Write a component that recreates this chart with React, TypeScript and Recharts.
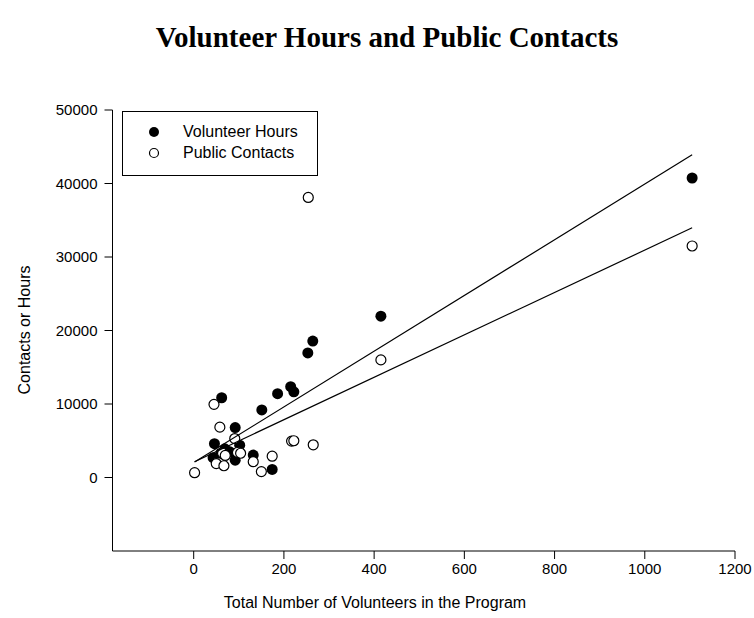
import React from 'react';
import { ScatterChart, Scatter, XAxis, YAxis } from 'recharts';

// Volunteer Hours (filled circles)
const hoursX = [1105, 415, 264, 253, 215, 222, 186, 151, 62, 92, 46, 102, 69, 132, 43, 92, 174, 60, 80];
const hoursY = [40750, 21950, 18560, 16950, 12350, 11650, 11400, 9200, 10850, 6800, 4600, 4400, 3900, 3050, 2700, 2350, 1100, 3300, 3500];

// Public Contacts (open circles)
const contactsX = [1105, 415, 254, 45, 58, 91, 217, 222, 265, 174, 132, 150, 2, 50, 67, 64, 97, 104, 70];
const contactsY = [31500, 16000, 38100, 9950, 6850, 5300, 4950, 5000, 4450, 2900, 2150, 800, 650, 1900, 1600, 3300, 3400, 3300, 3000];

// Regression line end points
const fitX = [2, 1105];
const fitHoursY = [2100, 43900];
const fitContactsY = [2150, 33970];

const xTicks = [0, 200, 400, 600, 800, 1000, 1200];
const yTicks = [0, 10000, 20000, 30000, 40000, 50000];

const seriesNames = ['Volunteer Hours', 'Public Contacts'];
const chartTitle = 'Volunteer Hours and Public Contacts';
const xLabel = 'Total Number of Volunteers in the Program';
const yLabel = 'Contacts or Hours';

const hoursData = hoursX.map((x, i) => ({ x, y: hoursY[i] }));
const contactsData = contactsX.map((x, i) => ({ x, y: contactsY[i] }));
const fitHours = fitX.map((x, i) => ({ x, y: fitHoursY[i] }));
const fitContacts = fitX.map((x, i) => ({ x, y: fitContactsY[i] }));

const SANS = '"Liberation Sans", Arial, Helvetica, sans-serif';
const SERIF = '"Liberation Serif", "Times New Roman", serif';

const FilledDot = (props: any) => (
  <circle cx={props.cx} cy={props.cy} r={5.5} fill="#000" stroke="none" />
);
const OpenDot = (props: any) => (
  <circle cx={props.cx} cy={props.cy} r={5} fill="#fff" stroke="#000" strokeWidth={1.2} />
);
const NoDot = () => null;

const LegendBox = () => (
  <div
    style={{
      position: 'absolute',
      left: 114,
      top: 103,
      width: 196,
      height: 65,
      border: '1px solid #000',
      boxSizing: 'border-box',
      fontFamily: SANS,
      fontSize: 16,
      color: '#000',
      background: '#fff',
    }}
  >
    {seriesNames.map((name, i) => (
      <div key={name} style={{ position: 'absolute', left: 0, top: 10 + i * 21, height: 20, display: 'flex', alignItems: 'center' }}>
        <svg width={60} height={20} style={{ display: 'block' }}>
          {i === 0 ? (
            <circle cx={31} cy={10} r={5} fill="#000" />
          ) : (
            <circle cx={31} cy={10} r={4.5} fill="#fff" stroke="#000" strokeWidth={1.2} />
          )}
        </svg>
        <span style={{ whiteSpace: 'nowrap' }}>{name}</span>
      </div>
    ))}
  </div>
);

export default function App() {
  const W = 746;
  const H = 602;
  return (
    <div style={{ position: 'relative', width: 754, height: 618, background: '#fff' }}>
      <style>{`html, body { margin: 0; overflow: hidden; } svg.recharts-surface { overflow: visible !important; } .recharts-wrapper { overflow: visible !important; }`}</style>
      <div style={{ position: 'absolute', left: 8, top: 8, width: W, height: H, fontFamily: SANS }}>
        <ScatterChart
          width={W}
          height={H}
          margin={{ top: 102, right: 19, left: 44.5, bottom: 29 }}
        >
          <XAxis
            type="number"
            dataKey="x"
            domain={[-180, 1200]}
            ticks={xTicks}
            allowDataOverflow
            interval={0}
            height={30}
            tickSize={8}
            tickMargin={4}
            axisLine={{ stroke: '#000', strokeWidth: 1 }}
            tickLine={{ stroke: '#000', strokeWidth: 1 }}
            tick={{ fill: '#000', fontSize: 15, fontFamily: SANS }}
          />
          <YAxis
            type="number"
            dataKey="y"
            domain={[-10000, 50000]}
            ticks={yTicks}
            allowDataOverflow
            interval={0}
            width={60}
            tickSize={8}
            tickMargin={7}
            axisLine={{ stroke: '#000', strokeWidth: 1 }}
            tickLine={{ stroke: '#000', strokeWidth: 1 }}
            tick={{ fill: '#000', fontSize: 15, fontFamily: SANS }}
          />
          <Scatter name={seriesNames[0]} data={hoursData} shape={FilledDot} isAnimationActive={false} />
          <Scatter name={seriesNames[1]} data={contactsData} shape={OpenDot} isAnimationActive={false} />
          <Scatter
            name="fit hours"
            data={fitHours}
            shape={NoDot}
            line={{ stroke: '#000', strokeWidth: 1.2 }}
            legendType="none"
            isAnimationActive={false}
          />
          <Scatter
            name="fit contacts"
            data={fitContacts}
            shape={NoDot}
            line={{ stroke: '#000', strokeWidth: 1.2 }}
            legendType="none"
            isAnimationActive={false}
          />
        </ScatterChart>
        <div
          style={{
            position: 'absolute',
            left: 379,
            top: 13,
            transform: 'translateX(-50%)',
            whiteSpace: 'nowrap',
            fontFamily: SERIF,
            fontWeight: 'bold',
            fontSize: 29,
            color: '#000',
          }}
        >
          {chartTitle}
        </div>
        <div
          style={{
            position: 'absolute',
            left: 17,
            top: 322,
            transform: 'translate(-50%, -50%) rotate(-90deg)',
            whiteSpace: 'nowrap',
            fontSize: 16,
            color: '#000',
          }}
        >
          {yLabel}
        </div>
        <div
          style={{
            position: 'absolute',
            left: 367,
            top: 595,
            transform: 'translate(-50%, -50%)',
            whiteSpace: 'nowrap',
            fontSize: 16,
            color: '#000',
          }}
        >
          {xLabel}
        </div>
        <LegendBox />
      </div>
    </div>
  );
}
